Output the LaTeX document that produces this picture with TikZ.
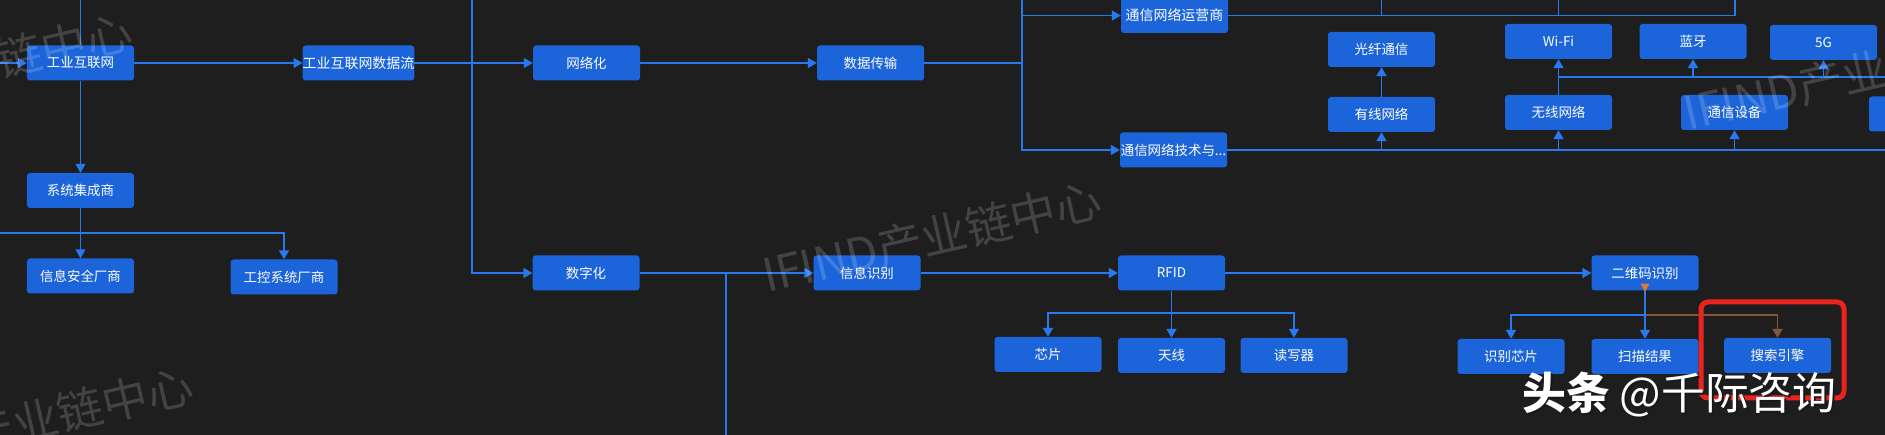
\documentclass[tikz,border=0pt]{standalone}
\usepackage{fontspec}
\newfontfamily\cjk{Noto Sans CJK SC}
\usetikzlibrary{arrows.meta}
\definecolor{bg}{RGB}{30,30,30}
\definecolor{boxblue}{RGB}{28,100,218}
\definecolor{lineblue}{RGB}{40,120,240}
\definecolor{brownline}{RGB}{130,88,58}
\definecolor{orangetip}{RGB}{224,122,50}
\definecolor{redframe}{RGB}{235,35,30}
\begin{document}
\begin{tikzpicture}[x=1bp,y=-1bp,
  box/.style={rectangle, rounded corners=3bp, fill=boxblue, minimum width=107bp, minimum height=35bp, inner sep=0pt, text=white, font=\cjk\fontsize{13.5}{13.5}\selectfont},
  longbox/.style={box, font=\cjk\fontsize{14}{14}\selectfont},
  conn/.style={draw=lineblue, line width=1.6bp},
  arr/.style={conn, -{Triangle[length=9bp,width=10bp]}},
  brownarr/.style={draw=brownline, line width=1.2bp, -{Triangle[length=9bp,width=10bp]}},
  wm/.style={text=white, text opacity=0.17, font=\cjk\fontsize{46}{46}\selectfont, rotate=13, inner sep=0pt},
  toutiao/.style={anchor=base west, inner sep=0pt, font=\cjk\fontsize{44}{44}\selectfont},
]
\fill[bg] (0,0) rectangle (1885,435);
\useasboundingbox (0,0) rectangle (1885,435);
\clip (0,0) rectangle (1885,435);

% nodes
\node[box] (iin) at (80.5,63) {工业互联网};
\node[longbox] (flow) at (358.5,63) {工业互联网数据流};
\node[box] (sysint) at (80.5,190.5) {系统集成商};
\node[box] (infosec) at (80.5,276) {信息安全厂商};
\node[box] (ics) at (284,277) {工控系统厂商};
\node[box] (netw) at (586.5,63) {网络化};
\node[box] (data) at (870.5,63) {数据传输};
\node[longbox] (oper) at (1174.5,15.5) {通信网络运营商};
\node[box] (tech) at (1173.5,150) {通信网络技术与...};
\node[box] (fiber) at (1381.5,49.5) {光纤通信};
\node[box] (wired) at (1381.5,114.5) {有线网络};
\node[box] (wifi) at (1558.5,41.5) {Wi-Fi};
\node[box] (bt) at (1693,41.5) {蓝牙};
\node[box] (fiveg) at (1823.5,42.5) {5G};
\node[box] (wless) at (1558.5,112.5) {无线网络};
\node[box] (equip) at (1734.5,112.5) {通信设备};
\node[box] (cut) at (1922.5,114) {};
\node[box] (digit) at (586,273) {数字化};
\node[box] (idrec) at (867,273) {信息识别};
\node[box] (rfid) at (1171.5,273) {RFID};
\node[box] (chip) at (1048,354.5) {芯片};
\node[box] (ant) at (1171.5,355.5) {天线};
\node[box] (reader) at (1294,355.5) {读写器};
\node[box] (qr) at (1645,273) {二维码识别};
\node[box] (idchip) at (1511,356.5) {识别芯片};
\node[box] (scan) at (1645,356.5) {扫描结果};
\node[box] (search) at (1777.5,355.5) {搜索引擎};

% free ends
\coordinate (inL) at (0,63);
\coordinate (topA) at (80.5,0);
\coordinate (inB) at (0,233);
\coordinate (topC) at (472,0);
\coordinate (topD) at (1022,0);
\coordinate (upE) at (1735,0);
\coordinate (upF) at (1381.5,0);
\coordinate (upG) at (1558.5,0);
\coordinate (rightH) at (1885,150);
\coordinate (rightI) at (1885,77);
\coordinate (downJ) at (726,435);
\coordinate (jK) at (1171.5,313);
\coordinate (jL) at (1645,315);

% connectors, left part
\draw[arr] (inL) -- (iin);
\draw[conn] (topA) -- (iin);
\draw[arr] (iin) -- (flow);
\draw[arr] (iin) -- (sysint);
\draw[arr] (sysint) -- (infosec);
\draw[arr] (inB) -| (ics);
\draw[arr] (flow) -- (netw);
\draw[arr] (topC) |- (digit);
\draw[arr] (netw) -- (data);

% upper right
\draw[conn] (data.east) -- (data.east -| topD);
\draw[arr] (topD) |- (tech);
\draw[arr] (topD |- oper) -- (oper);
\draw[conn] (oper) -| (upE);
\draw[conn] (upF) -- (upF |- oper);
\draw[conn] (upG) -- (upG |- oper);
\draw[conn] (tech) -- (rightH);
\draw[arr] (wired |- tech) -- (wired);
\draw[arr] (wless |- tech) -- (wless);
\draw[arr] (equip |- tech) -- (equip);
\draw[arr] (wired) -- (fiber);
\draw[arr] (wless) -- (wifi);
\draw[conn] (wless |- rightI) -- (rightI);
\draw[arr] (bt |- rightI) -- (bt);
\draw[arr] (fiveg |- rightI) -- (fiveg);

% lower row
\draw[arr] (digit) -- (idrec);
\draw[conn] (downJ |- digit) -- (downJ);
\draw[arr] (idrec) -- (rfid);
\draw[arr] (rfid) -- (qr);
\draw[arr] (rfid) -- (ant);
\draw[arr] (jK) -| (chip);
\draw[arr] (jK) -| (reader);
\draw[arr] (jL) -| (idchip);
\draw[brownarr] (jL) -| (search);
\draw[arr] (qr) -- (scan);
\fill[orangetip] (qr.south) ++(-4.5,-7) -- ++(9,0) -- ++(-4.5,8) -- cycle;

% red highlight frame
\draw[redframe, line width=5bp, rounded corners=7bp] (1701,302) rectangle (1844,398);

% watermarks
\node[wm, anchor=base west] (wm1) at (767,293) {IFIND产业链中心};
\node[wm, anchor=base west] (wm2) at (1688,131) {IFIND产业链中心};
\node[wm, anchor=base east] (wm3) at (196,401) {IFIND产业链中心};
\node[wm, anchor=base east] (wm4) at (135,47) {IFIND产业链中心};

% toutiao label
\node[toutiao, text=black!90] (ttA) at (1524,411) {\bfseries 头条\mdseries\ @千际咨询};
\node[toutiao, text=white] (tt) at (1522,409) {\bfseries 头条\mdseries\ @千际咨询};
\end{tikzpicture}
\end{document}
